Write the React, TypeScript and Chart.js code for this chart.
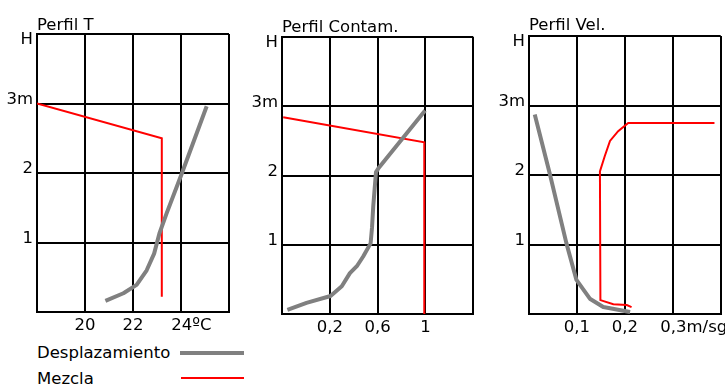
import React, { useEffect, useRef } from 'react';
import { Chart, registerables } from 'chart.js';

Chart.register(...registerables);

const FONT = '"DejaVu Sans", sans-serif';
const FONT_SIZE = 16.5;
const GRAY = '#808080';
const RED = '#ff0000';
const NBSP = '\u00A0';

// ---------- Shared height axis ----------
const heightTickValues = [4, 3, 2, 1];
const heightTickLabels = ['H', '3m', '2', '1'];

// ---------- Panel 1: Perfil T ----------
const tempTickValues = [20, 22, 24];
const tempTickNums = ['20', '22', '24'];
const tempTickUnits = ['', '', 'ºC'];
const tempDesplX = [20.85, 21.6, 22.15, 22.57, 22.88, 23.1, 23.4, 24.03, 25.07];
const tempDesplH = [0.16, 0.27, 0.39, 0.6, 0.84, 1.13, 1.42, 1.99, 2.96];
const tempMezclaX = [18, 23.2, 23.2];
const tempMezclaH = [3.0, 2.5, 0.22];

// ---------- Panel 2: Perfil Contam. ----------
const contTickValues = [0.2, 0.6, 1];
const contTickNums = ['0,2', '0,6', '1'];
const contTickUnits = ['', '', ''];
const contDesplX = [-0.155, 0.005, 0.206, 0.3, 0.368, 0.43, 0.479, 0.541, 0.553, 0.563, 0.586, 0.605, 0.997];
const contDesplH = [0.06, 0.16, 0.26, 0.4, 0.59, 0.7, 0.83, 1.02, 1.25, 1.55, 2.05, 2.1, 2.94];
const contMezclaX = [-0.19, 0.99, 0.99];
const contMezclaH = [2.84, 2.48, 0];

// ---------- Panel 3: Perfil Vel. ----------
const velTickValues = [0.1, 0.2, 0.3];
const velTickNums = ['0,1', '0,2', '0,3'];
const velTickUnits = ['', '', 'm/sg'];
const velDesplX = [0.012, 0.043, 0.078, 0.099, 0.127, 0.155, 0.211];
const velDesplH = [2.87, 2.03, 1.02, 0.49, 0.22, 0.1, 0.03];
const velMezclaX = [0.214, 0.204, 0.176, 0.149, 0.148, 0.158, 0.169, 0.186, 0.207, 0.387];
const velMezclaH = [0.1, 0.13, 0.14, 0.2, 2.05, 2.27, 2.49, 2.63, 2.75, 2.75];

// ---------- Legend ----------
const legendLabels = ['Desplazamiento', 'Mezcla'];

type Panel = {
  title: string;
  xMin: number;
  xMax: number;
  xStep: number;
  tickValues: number[];
  tickNums: string[];
  tickUnits: string[];
  desplX: number[];
  desplH: number[];
  mezclaX: number[];
  mezclaH: number[];
  left: number;
  width: number;
  height: number;
  yAxisWidth: number;
  padRight: number;
  titlePadTop: number;
  titlePadBottom: number;
};

const panels: Panel[] = [
  {
    title: 'Perfil T', xMin: 18, xMax: 26, xStep: 2,
    tickValues: tempTickValues, tickNums: tempTickNums, tickUnits: tempTickUnits,
    desplX: tempDesplX, desplH: tempDesplH, mezclaX: tempMezclaX, mezclaH: tempMezclaH,
    left: 0, width: 240, height: 340, yAxisWidth: 37, padRight: 11,
    titlePadTop: 17.5, titlePadBottom: 0,
  },
  {
    title: 'Perfil Contam.', xMin: -0.2, xMax: 1.4, xStep: 0.4,
    tickValues: contTickValues, tickNums: contTickNums, tickUnits: contTickUnits,
    desplX: contDesplX, desplH: contDesplH, mezclaX: contMezclaX, mezclaH: contMezclaH,
    left: 240, width: 240, height: 342, yAxisWidth: 42, padRight: 6.7,
    titlePadTop: 19, titlePadBottom: 1.5,
  },
  {
    title: 'Perfil Vel.', xMin: 0, xMax: 0.4, xStep: 0.1,
    tickValues: velTickValues, tickNums: velTickNums, tickUnits: velTickUnits,
    desplX: velDesplX, desplH: velDesplH, mezclaX: velMezclaX, mezclaH: velMezclaH,
    left: 480, width: 245, height: 342, yAxisWidth: 49, padRight: 4.3,
    titlePadTop: 17.5, titlePadBottom: 2,
  },
];

function padFor(unit: string): string {
  if (!unit) return '';
  const ctx = document.createElement('canvas').getContext('2d');
  if (!ctx) return '';
  ctx.font = `${FONT_SIZE}px ${FONT}`;
  const n = Math.round(ctx.measureText(unit).width / ctx.measureText(NBSP).width);
  return NBSP.repeat(n);
}

function toPoints(xs: number[], ys: number[]) {
  return xs.map((x, i) => ({ x, y: ys[i] }));
}

function PanelChart({ p }: { p: Panel }) {
  const ref = useRef<HTMLCanvasElement | null>(null);
  useEffect(() => {
    if (!ref.current) return;
    const font = { family: FONT, size: FONT_SIZE, lineHeight: 1.2 };
    const chart = new Chart(ref.current, {
      type: 'scatter',
      data: {
        datasets: [
          {
            label: legendLabels[0],
            data: toPoints(p.desplX, p.desplH),
            showLine: true,
            borderColor: GRAY,
            backgroundColor: GRAY,
            borderWidth: 4,
            pointRadius: 0,
            tension: 0,
            borderJoinStyle: 'round',
          },
          {
            label: legendLabels[1],
            data: toPoints(p.mezclaX, p.mezclaH),
            showLine: true,
            borderColor: RED,
            backgroundColor: RED,
            borderWidth: 2,
            pointRadius: 0,
            tension: 0,
          },
        ],
      },
      options: {
        animation: false,
        responsive: false,
        layout: { padding: { left: 0, top: 0, bottom: 0, right: p.padRight } },
        plugins: {
          legend: { display: false },
          tooltip: { enabled: false },
          title: {
            display: true,
            text: p.title,
            align: 'start',
            fullSize: false,
            color: '#000',
            font: { family: FONT, size: FONT_SIZE, lineHeight: 1.0, weight: 'normal' },
            padding: { top: p.titlePadTop, bottom: p.titlePadBottom },
          },
        },
        scales: {
          x: {
            type: 'linear',
            min: p.xMin,
            max: p.xMax,
            afterFit: (s: any) => { s.height = 28; },
            grid: { color: '#000', lineWidth: 2, drawTicks: false },
            border: { display: true, color: '#000', width: 2 },
            ticks: {
              stepSize: p.xStep,
              autoSkip: false,
              maxRotation: 0,
              padding: 4,
              color: '#000',
              font,
              callback: (value: any) => {
                const v = Number(value);
                const i = p.tickValues.findIndex((t) => Math.abs(t - v) < 1e-6);
                if (i < 0) return '';
                const unit = p.tickUnits[i];
                return padFor(unit) + p.tickNums[i] + unit;
              },
            },
          },
          y: {
            type: 'linear',
            min: 0,
            max: 4,
            afterFit: (s: any) => { s.width = p.yAxisWidth; },
            grid: { color: '#000', lineWidth: 2, drawTicks: false },
            border: { display: true, color: '#000', width: 2 },
            ticks: {
              stepSize: 1,
              autoSkip: false,
              padding: 4,
              labelOffset: -4,
              color: '#000',
              font,
              callback: (value: any) => {
                const v = Number(value);
                const i = heightTickValues.findIndex((t) => Math.abs(t - v) < 1e-6);
                if (i < 0) return '';
                return i === 0 ? ['', heightTickLabels[i]] : heightTickLabels[i];
              },
            },
          },
        },
      },
    } as any);
    return () => chart.destroy();
  }, [p]);
  return (
    <div style={{ position: 'absolute', left: p.left, top: 0, width: p.width, height: p.height }}>
      <canvas ref={ref} width={p.width} height={p.height} style={{ display: 'block' }} />
    </div>
  );
}

export default function App() {
  const textStyle: React.CSSProperties = {
    position: 'absolute',
    left: 37,
    fontFamily: FONT,
    fontSize: FONT_SIZE,
    lineHeight: '20px',
    color: '#000',
    whiteSpace: 'nowrap',
  };
  return (
    <div style={{ position: 'fixed', left: 0, top: 0, width: 725, height: 385, background: '#fff', overflow: 'hidden' }}>
      {panels.map((p) => (
        <PanelChart key={p.title} p={p} />
      ))}
      <div style={{ ...textStyle, top: 343 }}>{legendLabels[0]}</div>
      <div style={{ position: 'absolute', left: 180, top: 351, width: 64, height: 4, background: GRAY }} />
      <div style={{ ...textStyle, top: 369 }}>{legendLabels[1]}</div>
      <div style={{ position: 'absolute', left: 181, top: 377, width: 63, height: 2, background: RED }} />
    </div>
  );
}
